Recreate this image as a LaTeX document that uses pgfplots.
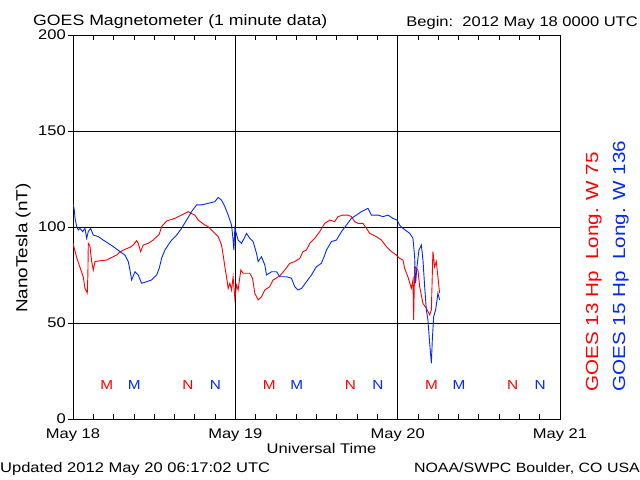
\documentclass[border=0pt]{standalone}
\usepackage{pgfplots}
\pgfplotsset{compat=1.18}
\usepackage{fontspec}
\setmainfont{Liberation Sans}[FakeStretch=1.18]
\definecolor{goesred}{RGB}{255,0,0}
\definecolor{goesblue}{RGB}{0,40,255}
\newcommand{\fs}[1]{\fontsize{#1bp}{#1bp}\selectfont}
\begin{document}
\begin{tikzpicture}[x=1bp,y=1bp]
\path[use as bounding box] (-73,-61) rectangle (567,419);
\begin{axis}[
  at={(0,0)}, anchor=south west,
  scale only axis, width=487bp, height=384bp,
  xmin=0, xmax=72, ymin=0, ymax=200,
  axis line style={black, line width=0.9bp},
  xtick={0,24,48,72},
  xticklabels={May 18,May 19,May 20,May 21},
  minor xtick={3,6,...,69},
  ytick={0,50,100,150,200},
  ytick pos=left,
  xtick align=inside, ytick align=outside,
  major tick length=5bp, minor tick length=5bp,
  tick style={black, line width=0.7bp},
  grid=major,
  major grid style={black, line width=0.9bp},
  /pgf/number format/assume math mode=true,
  ticklabel style={font=\fs{14}, inner sep=1bp},
  yticklabel style={xshift=-1bp},
  xticklabel style={yshift=-9bp},
  xlabel={Universal Time}, xlabel style={font=\fs{14}, yshift=3bp, xshift=5bp},
  ylabel={NanoTesla (nT)}, ylabel style={font=\fs{16}, at={(ticklabel cs:0.445)}, yshift=3bp},
  clip=true,
]
% GOES 13 (red)
\addplot[goesred, line width=0.9bp] coordinates {
(0,91.5)(0.55,84)(1.03,79)(1.52,74)(1.77,68)(1.92,67)(2.11,65.6)(2.2,75)(2.26,91.5)(2.51,90)(2.76,82)(3.0,77.6)(3.25,82)(3.99,82.4)(4.98,82.8)(5.46,83.7)(6.45,85.4)(6.94,87)(7.68,88.4)(8.42,89.4)(8.91,90.6)(9.41,92.9)(9.64,91.5)(10.0,87.2)(10.38,90.6)(11.12,91.5)(11.86,93.2)(12.75,96.2)(13.1,100.2)(13.84,103.1)(15.06,104.5)(16.05,106.2)(17.03,108)(17.53,107)(18.02,106.2)(18.51,103.6)(19.5,101)(19.98,100.2)(20.72,97.6)(21.46,95)(21.96,90.6)(22.2,85.4)(22.45,79.3)(22.7,74)(22.94,68)(23.19,70.7)(23.44,67.2)(23.67,74)(23.93,62.9)(24.18,69.8)(24.41,67.2)(24.81,77.6)(25.15,75.9)(26.14,75.9)(26.54,73.3)(26.88,65.5)(27.37,62)(27.87,63.7)(28.36,67.2)(29.09,68.9)(29.58,72.4)(30.57,74.5)(31.31,77.6)(32.05,81.1)(32.79,82)(33.53,83.7)(34.01,87.2)(34.52,88)(35.0,91.5)(35.74,94.1)(36.48,97.6)(37.22,101.9)(37.96,103.6)(38.69,102.8)(39.18,105.4)(39.92,106.2)(40.66,106.2)(41.16,105.4)(41.65,102.8)(42.14,101.9)(42.87,101.9)(43.37,99.3)(43.86,96.7)(44.85,95)(45.59,93.2)(46.33,89.8)(47.07,87.2)(47.81,85.4)(48.29,83.7)(48.78,82.8)(49.03,78.5)(49.52,74)(50.02,68)(50.26,72.4)(50.36,51.6)(50.51,79.3)(51.0,77.6)(51.25,68.9)(51.74,60.2)(52.24,57.6)(52.73,54.2)(52.98,56.8)(53.21,87.2)(53.46,79.3)(53.71,82)(53.95,74)(54.2,65.5)
};
% GOES 15 (blue)
\addplot[goesblue, line width=0.9bp] coordinates {
(0,112.3)(0.19,108.9)(0.3,104.5)(0.55,100.2)(0.78,98.4)(1.03,99.3)(1.43,97.6)(1.77,99.3)(2.02,94.1)(2.26,97.6)(2.61,99.3)(3.0,95.8)(3.74,95)(4.47,93.2)(5.21,91.5)(5.95,89.8)(6.94,87.2)(7.68,85.4)(8.17,82)(8.42,77.6)(8.67,72.4)(9.16,76.7)(9.64,75)(10.15,70.7)(10.88,71.5)(11.62,72.4)(12.36,75)(12.75,78.5)(13.1,83.7)(13.59,88)(14.07,90.6)(14.58,93.2)(15.32,95.8)(16.05,99.3)(16.79,103.6)(17.53,108)(18.27,111.5)(19.01,111.5)(19.98,112.3)(20.97,113.2)(21.46,115.4)(21.96,114)(22.45,110.6)(22.94,106.2)(23.44,101)(23.67,93.2)(23.78,88)(23.93,99.3)(24.41,93.2)(24.91,91.5)(25.3,94.1)(25.65,96.7)(26.14,94.1)(26.63,92.4)(27.13,86.3)(27.37,82)(27.87,84.5)(28.36,80.2)(28.61,75)(29.35,76.7)(30.08,76.7)(30.57,74.1)(31.56,74.1)(32.3,73.3)(32.79,68.9)(33.27,67.2)(33.78,68)(34.52,71.5)(35.25,75)(35.99,79.3)(36.73,81.1)(37.22,85.4)(37.47,88)(38.21,92.4)(38.95,93.2)(39.69,97.6)(40.42,101)(41.16,104.5)(41.9,106.2)(42.64,108)(43.61,109.7)(44.11,106.2)(45.09,106.2)(45.83,105.4)(46.57,106.2)(47.3,104.5)(47.9,103.6)(48.29,101)(48.78,99.3)(49.77,96.7)(50.26,94.1)(50.51,84.5)(50.65,70.7)(50.85,79.3)(51.14,88)(51.5,90.6)(51.74,82.8)(51.99,68.9)(52.24,56.8)(52.47,51.6)(52.73,39.4)(52.98,29)(53.12,41.1)(53.32,53.3)(53.61,56.8)(53.95,65.5)(54.2,62)
};
% local midnight / noon markers
\node[goesred, font=\fs{13}] at (axis cs:5,17.5) {M};
\node[goesblue, font=\fs{13}] at (axis cs:9.07,17.5) {M};
\node[goesred, font=\fs{13}] at (axis cs:17,17.5) {N};
\node[goesblue, font=\fs{13}] at (axis cs:21.07,17.5) {N};
\node[goesred, font=\fs{13}] at (axis cs:29,17.5) {M};
\node[goesblue, font=\fs{13}] at (axis cs:33.07,17.5) {M};
\node[goesred, font=\fs{13}] at (axis cs:41,17.5) {N};
\node[goesblue, font=\fs{13}] at (axis cs:45.07,17.5) {N};
\node[goesred, font=\fs{13}] at (axis cs:53,17.5) {M};
\node[goesblue, font=\fs{13}] at (axis cs:57.07,17.5) {M};
\node[goesred, font=\fs{13}] at (axis cs:65,17.5) {N};
\node[goesblue, font=\fs{13}] at (axis cs:69.07,17.5) {N};
\end{axis}
\node[anchor=base west, font=\fs{15}, inner sep=0] at (-40,393) {GOES Magnetometer (1 minute data)};
\node[anchor=base east, font=\fs{14}, inner sep=0] at (565,392) {Begin:\ \ 2012 May 18 0000 UTC};
\node[anchor=base west, font=\fs{14}, inner sep=0] at (-73,-54) {Updated 2012 May 20 06:17:02 UTC};
\node[anchor=base east, font=\fs{13.5}, inner sep=0] at (567,-54) {NOAA/SWPC Boulder, CO USA};
\node[rotate=90, anchor=base west, font=\fs{17.5}, inner sep=0, text=goesred] at (525,27) {GOES 13 Hp\ \ Long. W 75};
\node[rotate=90, anchor=base west, font=\fs{17.5}, inner sep=0, text=goesblue] at (552,27) {GOES 15 Hp\ \ Long. W 136};
\end{tikzpicture}
\end{document}
